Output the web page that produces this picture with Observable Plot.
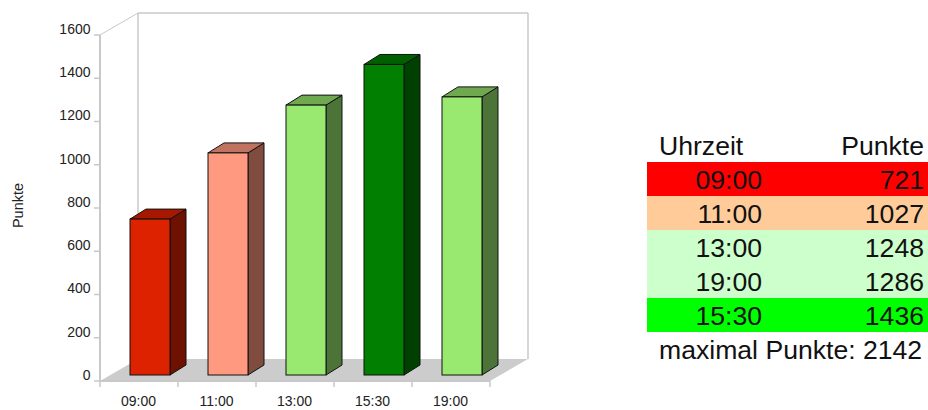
<!DOCTYPE html>
<html>
<head>
<meta charset="utf-8">
<script src="https://cdn.jsdelivr.net/npm/d3@7"></script>
<script src="https://cdn.jsdelivr.net/npm/@observablehq/plot@0.6"></script>
<style>
html,body{margin:0;padding:0;background:#fff;overflow:hidden}
#wrap{position:relative;width:928px;height:410px;font-family:"Liberation Sans",Arial,sans-serif}
#chart svg{display:block;background:#fff}
#table{position:absolute;left:647px;top:128px;width:281px;font-size:26.6px;line-height:34px;color:#111}
.row{display:flex;height:34px}
.t{width:115px;text-align:right;box-sizing:border-box;position:relative;top:1px}
.p{flex:1;text-align:right;padding-right:4px;position:relative;top:1px}
.head .t{text-align:left;padding-left:12px}
.note{padding-left:12px;margin-top:1px;white-space:nowrap}
</style>
</head>
<body>
<div id="wrap">
  <div id="chart"></div>
  <div id="table"></div>
</div>
<script>
const times = ["09:00", "11:00", "13:00", "15:30", "19:00"];
const points = [721, 1027, 1248, 1436, 1286];
const barColors = ["#dd2200", "#ff9980", "#99e870", "#007f00", "#99e870"];
const topColors = ["#a61900", "#c07360", "#70a850", "#006000", "#70a850"];
const sideColors = ["#6e1100", "#804c40", "#4d7438", "#004000", "#4d7438"];
const yTicks = [0, 200, 400, 600, 800, 1000, 1200, 1400, 1600];
const tableTimes = ["09:00", "11:00", "13:00", "19:00", "15:30"];
const tablePoints = [721, 1027, 1248, 1286, 1436];
const tableColors = ["#ff0000", "#ffcc99", "#ccffcc", "#ccffcc", "#00ff00"];
const maxPoints = 2142;

const bars = times.map((t, i) => ({t, v: points[i], fill: barColors[i], top: topColors[i], side: sideColors[i]}));

const grid = "#c8c8c8";
const wall = {dx: 38, dy: 22};
const bar = {offsetX: 11, offsetY: 6, inset: 19, dx: 16, dy: 10};

function poly(g, pts, fill, stroke) {
  g.append("polygon").attr("points", pts.map(p => p.join(",")).join(" "))
    .attr("fill", fill).attr("stroke", stroke).attr("stroke-width", 1).attr("stroke-linejoin", "round");
}
function line(g, a, b, w) {
  g.append("line").attr("x1", a[0]).attr("y1", a[1]).attr("x2", b[0]).attr("y2", b[1])
    .attr("stroke", grid).attr("stroke-width", w);
}

// Back wall, floor and axis frame, placed by the chart's own scales
const frame = (index, {x, y}) => {
  const g = d3.create("svg:g");
  const step = x(times[1]) - x(times[0]);
  const x0 = x(times[0]), x1 = x0 + step * times.length;
  const y0 = y(0), yT = y(yTicks[yTicks.length - 1]);
  poly(g, [[x0, y0], [x1, y0], [x1 + wall.dx, y0 - wall.dy], [x0 + wall.dx, y0 - wall.dy]], "#cccccc", "none");
  line(g, [x0 + wall.dx, yT - wall.dy], [x1 + wall.dx, yT - wall.dy], 1.5);
  line(g, [x0 + wall.dx, yT - wall.dy], [x0 + wall.dx, y0 - wall.dy], 1.5);
  line(g, [x1 + wall.dx, yT - wall.dy], [x1 + wall.dx, y0 - wall.dy], 1.5);
  line(g, [x0, yT], [x0 + wall.dx, yT - wall.dy], 1);
  line(g, [x0, yT], [x0, y0], 2);
  line(g, [x0, y0], [x1, y0], 2);
  for (let i = 0; i <= times.length; ++i) line(g, [x0 + i * step, y0], [x0 + i * step, y0 + 6], 1.5);
  for (const v of yTicks) line(g, [x0 - 6, y(v)], [x0, y(v)], 1.5);
  return g.node();
};

// Top and side faces of each column
const faces = (index, {x, y}) => {
  const g = d3.create("svg:g");
  const step = x(times[1]) - x(times[0]);
  for (const d of bars) {
    const L = x(d.t) + bar.inset + bar.offsetX;
    const R = x(d.t) + step - bar.inset + bar.offsetX;
    const T = y(d.v) - bar.offsetY;
    const B = y(0) - bar.offsetY;
    poly(g, [[R, T], [R + bar.dx, T - bar.dy], [R + bar.dx, B - bar.dy], [R, B]], d.side, "#111");
    poly(g, [[L, T], [L + bar.dx, T - bar.dy], [R + bar.dx, T - bar.dy], [R, T]], d.top, "#111");
  }
  return g.node();
};

const plot = Plot.plot({
  width: 928,
  height: 410,
  marginLeft: 100,
  marginRight: 438,
  marginTop: 35,
  marginBottom: 29,
  style: {fontFamily: '"Liberation Sans", Arial, sans-serif', background: "#fff", overflow: "visible"},
  x: {type: "band", domain: times, padding: 0, axis: null},
  y: {domain: [0, 1600], axis: null},
  marks: [
    frame,
    faces,
    Plot.barY(bars, {
      x: "t", y: "v",
      fill: d => d.fill,
      stroke: "#111",
      strokeWidth: 1,
      insetLeft: bar.inset,
      insetRight: bar.inset,
      dx: bar.offsetX,
      dy: -bar.offsetY
    }),
    Plot.axisY({
      ticks: yTicks, tickFormat: "d", tickSize: 0, tickPadding: 10, dy: -6,
      fontSize: 14, fill: "#222", label: null
    }),
    Plot.axisX({
      tickSize: 0, tickPadding: 15, dx: -1, fontSize: 14, fill: "#222", label: null
    }),
    Plot.text(["Punkte"], {
      frameAnchor: "left", textAnchor: "middle", dx: -82, dy: -3, rotate: -90, fontSize: 14.5, fill: "#222"
    })
  ]
});
document.getElementById("chart").append(plot);

const table = d3.select("#table");
const head = table.append("div").attr("class", "row head");
head.append("div").attr("class", "t").text("Uhrzeit");
head.append("div").attr("class", "p").text("Punkte");
tableTimes.forEach((t, i) => {
  const r = table.append("div").attr("class", "row").style("background", tableColors[i]);
  r.append("div").attr("class", "t").text(t);
  r.append("div").attr("class", "p").text(tablePoints[i]);
});
table.append("div").attr("class", "note").text("maximal Punkte: " + maxPoints);
</script>
</body>
</html>
